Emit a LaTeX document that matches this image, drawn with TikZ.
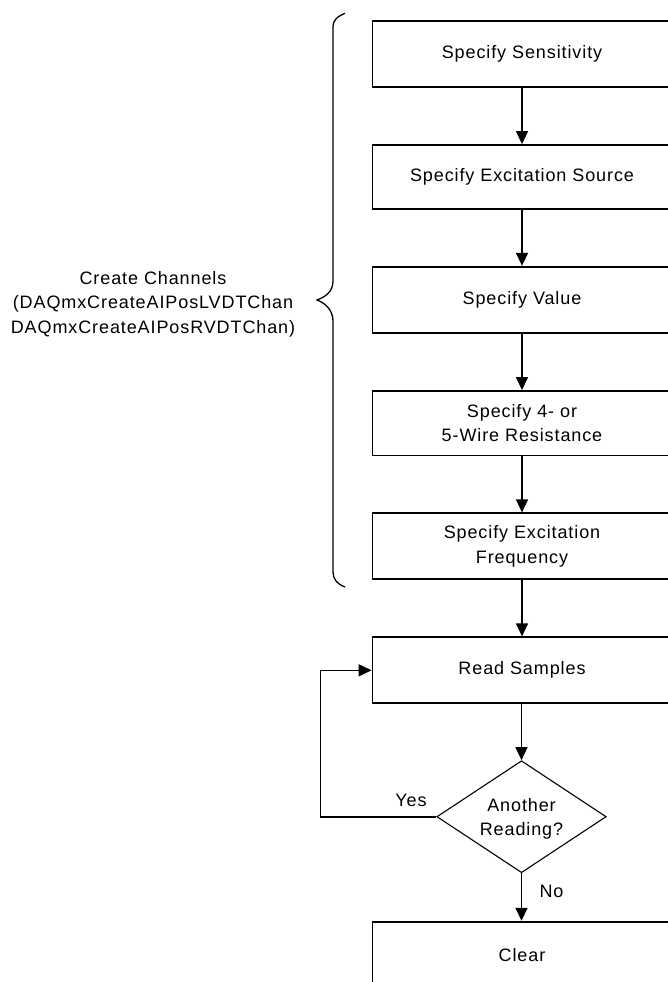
\documentclass[tikz,border=0pt]{standalone}
\usepackage{fontspec}
\setmainfont{Liberation Sans}[LetterSpace=5]
\usetikzlibrary{arrows.meta,shapes.geometric}
\tikzset{
  stepbox/.style={draw, line width=1.8pt, minimum width=299pt, inner sep=0pt, align=center},
  arr/.style={line width=1.6pt, -{Triangle[length=13pt,width=12pt]}},
  lbl/.style={inner sep=0pt, align=center},
}
\begin{document}
\begin{tikzpicture}[x=1pt,y=-1pt, font=\fontsize{18}{24.5}\selectfont]
\useasboundingbox (0,0) rectangle (668,982);
\node[stepbox, minimum height=66.5pt] (b1) at (522,54) {Specify Sensitivity};
\node[stepbox, minimum height=64pt] (b2) at (522,177) {Specify Excitation Source};
\node[stepbox, minimum height=66.5pt] (b3) at (522,300) {Specify Value};
\node[stepbox, minimum height=64.5pt] (b4) at (522,423.2) {Specify 4- or\\5-Wire Resistance};
\node[stepbox, minimum height=66pt] (b5) at (522,546.3) {Specify Excitation\\Frequency};
\node[stepbox, minimum height=66pt] (read) at (522,670.3) {Read Samples};
\node[draw, diamond, line width=1.1pt, minimum width=169.4pt, minimum height=112pt, inner sep=0pt] (dec) at (521.5,816.7) {};
\node[lbl] (dectext) at (521.5,819) {Another\\Reading?};
\node[stepbox, minimum height=66pt] (clear) at (522,954.7) {Clear};
\node[lbl] (cc) at (153,304) {Create Channels\\(DAQmxCreateAIPosLVDTChan\\DAQmxCreateAIPosRVDTChan)};
\node[lbl] (yes) at (411,800) {Yes};
\node[lbl] (no) at (551.5,891.7) {No};
\draw[arr] (b1) -- (b2);
\draw[arr] (b2) -- (b3);
\draw[arr] (b3) -- (b4);
\draw[arr] (b4) -- (b5);
\draw[arr] (b5) -- (read);
\draw[arr] (read.south -| dec.north) -- (dec.north);
\draw[arr] (dec.south) -- (clear.north -| dec.south);
\draw[arr] (dec.west) -- ++(-115.7,0) |- (read.west);
% brace
\draw[line width=1.3pt] (345,13.3) .. controls (336,17) and (333,21) .. (333,27)
  -- (333,281) .. controls (333,292) and (325,297) .. (317,300)
  .. controls (325,303) and (333,310) .. (333,321)
  -- (333,572) .. controls (333,579) and (337,584) .. (345,587);
\end{tikzpicture}
\end{document}
